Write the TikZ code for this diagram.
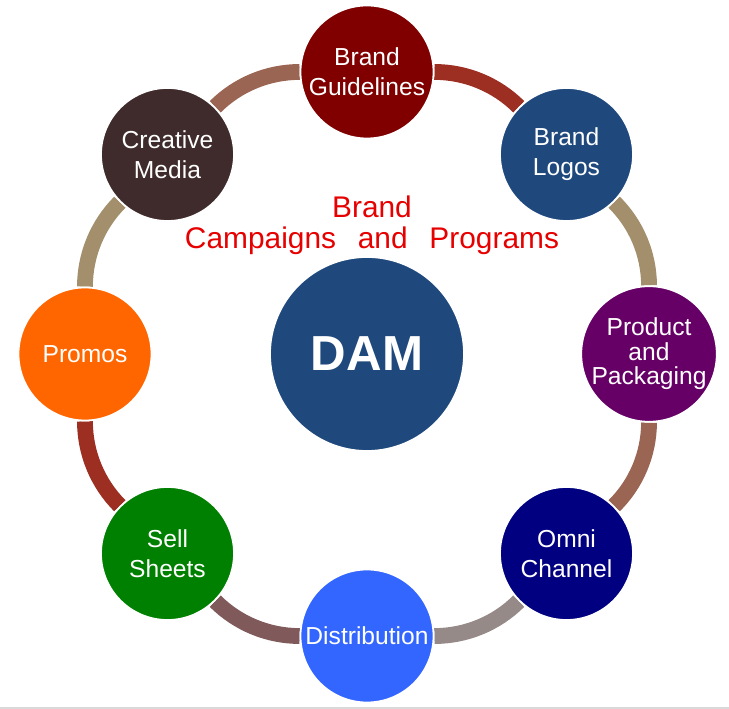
\documentclass[tikz,border=0pt]{standalone}
\usepackage{fontspec}
\setmainfont{Liberation Sans}
\usetikzlibrary{backgrounds}

\definecolor{guidecol}{HTML}{800000}
\definecolor{logocol}{HTML}{1F497D}
\definecolor{packcol}{HTML}{660066}
\definecolor{omnicol}{HTML}{000080}
\definecolor{distcol}{HTML}{3366FF}
\definecolor{sellcol}{HTML}{008000}
\definecolor{promocol}{HTML}{FF6600}
\definecolor{mediacol}{HTML}{3F2B2B}
\definecolor{damcol}{HTML}{1F497D}
\definecolor{campred}{HTML}{E60000}
\definecolor{arcred}{HTML}{9C2E22}
\definecolor{arctan}{HTML}{A38F6C}
\definecolor{arcrose}{HTML}{9A6553}
\definecolor{arcgrey}{HTML}{958A88}
\definecolor{arcplum}{HTML}{805A5A}
\definecolor{bottomgrey}{HTML}{D9D9D9}

\begin{document}
\begin{tikzpicture}

      \useasboundingbox (0,0) rectangle (14.58,14.18);
      \fill[bottomgrey] (0,0) rectangle (14.58,0.04);

      \begin{scope}[every node/.style={circle,draw=white,line width=1pt,minimum size=2.66cm,inner sep=0pt,text=white,align=center,font=\fontsize{14}{17}\selectfont}]
        \node[fill=guidecol] (guide)   at (7.34,12.74) {Brand\\Guidelines};
        \node[fill=logocol]  (logos)   at (11.33,11.09) {Brand\\Logos};
        \node[fill=packcol,font=\fontsize{14}{14}\selectfont] (pack) at (12.98,7.10) {Product\\and\\Packaging};
        \node[fill=omnicol]  (omni)    at (11.33,3.11) {Omni\\Channel};
        \node[fill=distcol]  (dist)    at (7.34,1.46)  {Distribution};
        \node[fill=sellcol]  (sell)    at (3.35,3.11)  {Sell\\Sheets};
        \node[fill=promocol] (promos)  at (1.70,7.10)  {Promos};
        \node[fill=mediacol] (media)   at (3.35,11.09) {Creative\\Media};
      \end{scope}

      \node[circle,fill=damcol,draw=white,line width=1pt,minimum size=3.88cm,inner sep=0pt,text=white,font=\fontsize{28}{32}\selectfont\bfseries] (dam) at (7.34,7.10) {DAM};
      \node[text=campred,align=center,font=\fontsize{17}{17.6}\selectfont] (campaigns) at (7.44,9.67) {Brand\\Campaigns\hspace{0.73em}and\hspace{0.73em}Programs};

      \begin{scope}[on background layer,every edge/.style={draw,line width=9pt,bend left=22.5,looseness=0.885}]
        \path (guide)  edge[draw=arcred]  (logos);
        \path (logos)  edge[draw=arctan]  (pack);
        \path (pack)   edge[draw=arcrose] (omni);
        \path (omni)   edge[draw=arcgrey] (dist);
        \path (dist)   edge[draw=arcplum] (sell);
        \path (sell)   edge[draw=arcred]  (promos);
        \path (promos) edge[draw=arctan]  (media);
        \path (media)  edge[draw=arcrose] (guide);
      \end{scope}

    \end{tikzpicture}
\end{document}
